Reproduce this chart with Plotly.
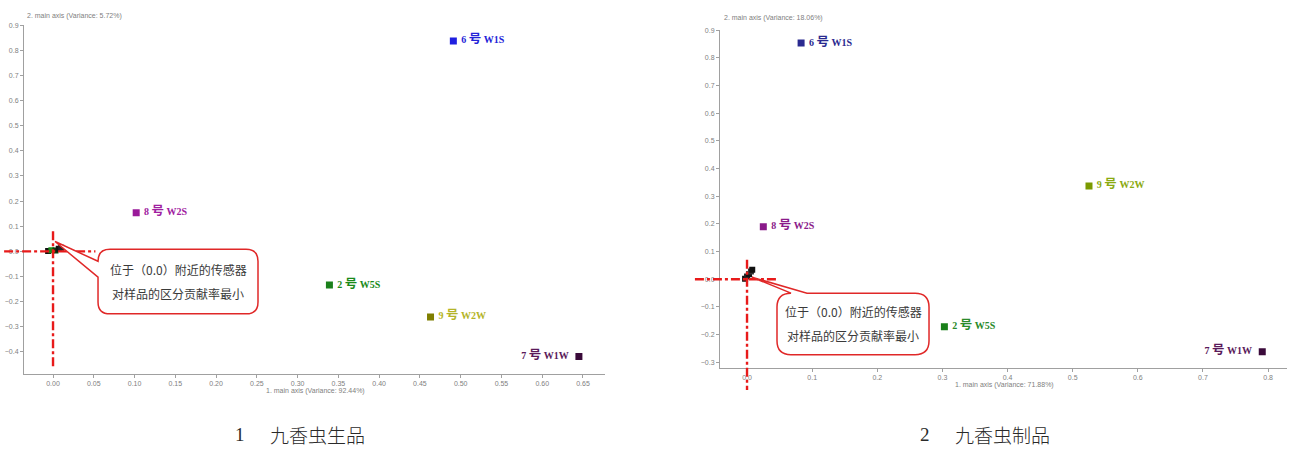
import plotly.graph_objects as go

W, H = 1290, 449

# ---- loading data: sensors with clear contribution ----
sensor_nums = ["6", "8", "2", "9", "7"]
sensor_names = ["W1S", "W2S", "W5S", "W2W", "W1W"]
raw_pc1 = [0.491, 0.102, 0.339, 0.463, 0.645]
raw_pc2 = [0.837, 0.154, -0.134, -0.261, -0.418]
proc_pc1 = [0.083, 0.025, 0.303, 0.525, 0.791]
proc_pc2 = [0.853, 0.190, -0.172, 0.337, -0.262]

# ---- sensors clustered around the origin ----
origin_labels = ["1号 W1C", "3号 W3C", "4号 W6S", "5号 W5C", "10号 W3S"]
raw_origin_pc1 = [-0.006, -0.002, 0.003, 0.007, 0.010]
raw_origin_pc2 = [0.001, 0.004, 0.003, 0.010, 0.014]
proc_origin_pc1 = [-0.003, 0.000, 0.003, 0.006, 0.008]
proc_origin_pc2 = [0.002, 0.010, 0.018, 0.028, 0.034]

raw_marker_colors = ["#1f1fe0", "#9a1a9a", "#1a801a", "#7f7f00", "#3a0a3a"]
raw_text_colors = ["#2323d8", "#a020a0", "#1a8a1a", "#b4b428", "#5a1a5a"]
proc_marker_colors = ["#2a2a90", "#8a1a8a", "#1a801a", "#7a9a00", "#3a0a3a"]
proc_text_colors = ["#2a2a90", "#8a1a8a", "#2a8a2a", "#8aaa10", "#5a1a5a"]
raw_origin_colors = ["#111111", "#1a8a1a", "#0a3a0a", "#111111", "#222222"]
proc_origin_colors = ["#111111", "#222222", "#111111", "#333333", "#111111"]

label_positions = ["middle right"] * 4 + ["middle left"]

variance_raw = ("92.44%", "5.72%")
variance_proc = ("71.88%", "18.06%")
captions = [("1", "九香虫生品"), ("2", "九香虫制品")]
callout_lines = ["位于（0.0）附近的传感器", "对样品的区分贡献率最小"]


def sensor_text(num, name, pos):
    t = f"{num} <span style='font-size:12.5px'>号</span> {name}"
    if pos == "middle left":
        return t + "  "
    return " " + t


sensor_labels = [sensor_text(n, s, p) for n, s, p in zip(sensor_nums, sensor_names, label_positions)]

# ---- panel geometry (pixels) and axis ranges ----
panels = {
    "raw": dict(xpx=(24, 605), ypx=(22, 373), xr=(-0.0356, 0.677), yr=(-0.486, 0.901)),
    "proc": dict(xpx=(720, 1287), ypx=(27, 367), xr=(-0.0415, 0.829), yr=(-0.319, 0.901)),
}


def data_to_px(p, x, y):
    g = panels[p]
    px = g["xpx"][0] + (x - g["xr"][0]) / (g["xr"][1] - g["xr"][0]) * (g["xpx"][1] - g["xpx"][0])
    py = g["ypx"][1] - (y - g["yr"][0]) / (g["yr"][1] - g["yr"][0]) * (g["ypx"][1] - g["ypx"][0])
    return px, py


def px_to_paper(px, py):
    return px / W, 1 - py / H


def path_from_px(cmds):
    out = []
    for c in cmds:
        op, pts = c[0], c[1:]
        coords = []
        for (px, py) in pts:
            X, Y = px_to_paper(px, py)
            coords.append(f"{X:.5f},{Y:.5f}")
        out.append(op + " " + " ".join(coords))
    return " ".join(out) + " Z"


fig = go.Figure()


def add_panel(xs, ys, mcols, tcols, oxs, oys, ocols, xa, ya):
    fig.add_trace(go.Scatter(
        x=oxs, y=oys, mode="markers", text=origin_labels, hoverinfo="text",
        marker=dict(symbol="square", size=6, color=ocols, line=dict(width=0)),
        xaxis=xa, yaxis=ya))
    fig.add_trace(go.Scatter(
        x=xs, y=ys, mode="markers+text", text=sensor_labels, textposition=label_positions,
        textfont=dict(family="Liberation Serif, Noto Sans CJK SC", size=10, color=tcols, weight="bold"),
        marker=dict(symbol="square", size=7, color=mcols, line=dict(width=0)),
        xaxis=xa, yaxis=ya))


add_panel(raw_pc1, raw_pc2, raw_marker_colors, raw_text_colors,
          raw_origin_pc1, raw_origin_pc2, raw_origin_colors, "x", "y")
add_panel(proc_pc1, proc_pc2, proc_marker_colors, proc_text_colors,
          proc_origin_pc1, proc_origin_pc2, proc_origin_colors, "x2", "y2")

axis_common = dict(showgrid=False, zeroline=False, showline=True, linecolor="#a0a0a0", linewidth=1,
                   ticks="outside", ticklen=3, tickcolor="#a0a0a0",
                   tickfont=dict(family="Liberation Sans", size=7, color="#808080"))


def dom(p):
    g = panels[p]
    return [g["xpx"][0] / W, g["xpx"][1] / W], [1 - g["ypx"][1] / H, 1 - g["ypx"][0] / H]


dx1, dy1 = dom("raw")
dx2, dy2 = dom("proc")

fig.update_layout(
    width=W, height=H, margin=dict(l=0, r=0, t=0, b=0),
    paper_bgcolor="white", plot_bgcolor="white", showlegend=False,
    xaxis=dict(domain=dx1, range=list(panels["raw"]["xr"]), tick0=0, dtick=0.05, tickformat=".2f",
               anchor="y", **axis_common),
    yaxis=dict(domain=dy1, range=list(panels["raw"]["yr"]), tick0=0, dtick=0.1, tickformat=".1f",
               anchor="x", **axis_common),
    xaxis2=dict(domain=dx2, range=list(panels["proc"]["xr"]), tick0=0, dtick=0.1, tickformat=".1f",
                anchor="y2", **axis_common),
    yaxis2=dict(domain=dy2, range=list(panels["proc"]["yr"]), tick0=0, dtick=0.1, tickformat=".1f",
                anchor="x2", **axis_common),
)

shapes = []
annotations = []

# dash-dot red cross-hair through the origin
cross = {
    "raw": dict(h=(-0.060, 0.052), v=(0.080, -0.460)),
    "proc": dict(h=(-0.080, 0.045), v=(0.070, -0.400)),
}
for p, c in cross.items():
    x0, y0 = px_to_paper(*data_to_px(p, c["h"][0], 0))
    x1, y1 = px_to_paper(*data_to_px(p, c["h"][1], 0))
    shapes.append(dict(type="line", xref="paper", yref="paper", x0=x0, y0=y0, x1=x1, y1=y1,
                       line=dict(color="#e81a1a", width=2.4, dash="dashdot"), layer="above"))
    x0, y0 = px_to_paper(*data_to_px(p, 0, c["v"][0]))
    x1, y1 = px_to_paper(*data_to_px(p, 0, c["v"][1]))
    shapes.append(dict(type="line", xref="paper", yref="paper", x0=x0, y0=y0, x1=x1, y1=y1,
                       line=dict(color="#e81a1a", width=2.4, dash="dashdot"), layer="above"))

# callout bubble on the raw panel: tail attached to the left edge
bx0, by0 = data_to_px("raw", 0.0552, 0.0079)
bx1, by1 = data_to_px("raw", 0.2514, -0.2487)
tipx, tipy = data_to_px("raw", 0.0025, 0.039)
r = 12
b1 = by0 + r
b2 = by0 + 28
cmds = [
    ("M", (bx0 + r, by0)), ("L", (bx1 - r, by0)), ("Q", (bx1, by0), (bx1, by0 + r)),
    ("L", (bx1, by1 - r)), ("Q", (bx1, by1), (bx1 - r, by1)), ("L", (bx0 + r, by1)),
    ("Q", (bx0, by1), (bx0, by1 - r)), ("L", (bx0, b2)), ("L", (tipx, tipy)), ("L", (bx0, b1)),
    ("Q", (bx0, by0), (bx0 + r, by0)),
]
shapes.append(dict(type="path", xref="paper", yref="paper", path=path_from_px(cmds),
                   fillcolor="white", line=dict(color="#e02828", width=1.5), layer="above"))
raw_box_center = ((bx0 + bx1) / 2, (by0 + by1) / 2)

# callout bubble on the processed panel: tail attached to the top edge
bx0, by0 = data_to_px("proc", 0.046, -0.0502)
bx1, by1 = data_to_px("proc", 0.2794, -0.2725)
tipx, tipy = data_to_px("proc", 0.0077, 0.0072)
r = 14
cmds = [
    ("M", (bx0, by0 + r)), ("Q", (bx0, by0), (bx0 + r, by0)), ("L", (tipx, tipy)),
    ("L", (bx0 + r + 16, by0)), ("L", (bx1 - r, by0)), ("Q", (bx1, by0), (bx1, by0 + r)),
    ("L", (bx1, by1 - r)), ("Q", (bx1, by1), (bx1 - r, by1)), ("L", (bx0 + r, by1)),
    ("Q", (bx0, by1), (bx0, by1 - r)),
]
shapes.append(dict(type="path", xref="paper", yref="paper", path=path_from_px(cmds),
                   fillcolor="white", line=dict(color="#e02828", width=1.5), layer="above"))
proc_box_center = ((bx0 + bx1) / 2, (by0 + by1) / 2)

for (cx, cy) in (raw_box_center, proc_box_center):
    for i, line in enumerate(callout_lines):
        X, Y = px_to_paper(cx, cy - 12 + 24 * i)
        annotations.append(dict(xref="paper", yref="paper", x=X, y=Y, text=line, showarrow=False,
                                xanchor="center", yanchor="middle",
                                font=dict(family="Noto Sans CJK SC", size=12, color="#3a3a3a")))

# axis titles
small = dict(family="Liberation Sans", size=7, color="#808080")
for (xp, yp, txt) in [
    (25, 13, f"2. main axis (Variance: {variance_raw[1]})"),
    (722, 15, f"2. main axis (Variance: {variance_proc[1]})"),
]:
    X, Y = px_to_paper(xp, yp)
    annotations.append(dict(xref="paper", yref="paper", x=X, y=Y, text=txt, showarrow=False,
                            xanchor="left", yanchor="middle", font=small))
for (xp, yp, txt) in [
    (315, 391, f"1. main axis (Variance: {variance_raw[0]})"),
    (1004, 385, f"1. main axis (Variance: {variance_proc[0]})"),
]:
    X, Y = px_to_paper(xp, yp)
    annotations.append(dict(xref="paper", yref="paper", x=X, y=Y, text=txt, showarrow=False,
                            xanchor="center", yanchor="middle", font=small))

# panel captions
cap_font = dict(family="Noto Sans CJK SC", size=19, color="#2a2a2a", weight=300)
for (nx, tx, (num, name)) in [(240, 268, captions[0]), (925, 953, captions[1])]:
    X, Y = px_to_paper(nx, 434)
    annotations.append(dict(xref="paper", yref="paper", x=X, y=Y, text=num, showarrow=False,
                            xanchor="center", yanchor="middle",
                            font=dict(family="Liberation Serif", size=19, color="#2a2a2a")))
    X, Y = px_to_paper(tx, 434)
    annotations.append(dict(xref="paper", yref="paper", x=X, y=Y, text=name, showarrow=False,
                            xanchor="left", yanchor="middle", font=cap_font))

fig.update_layout(shapes=shapes, annotations=annotations)
fig.write_html("out.html")
